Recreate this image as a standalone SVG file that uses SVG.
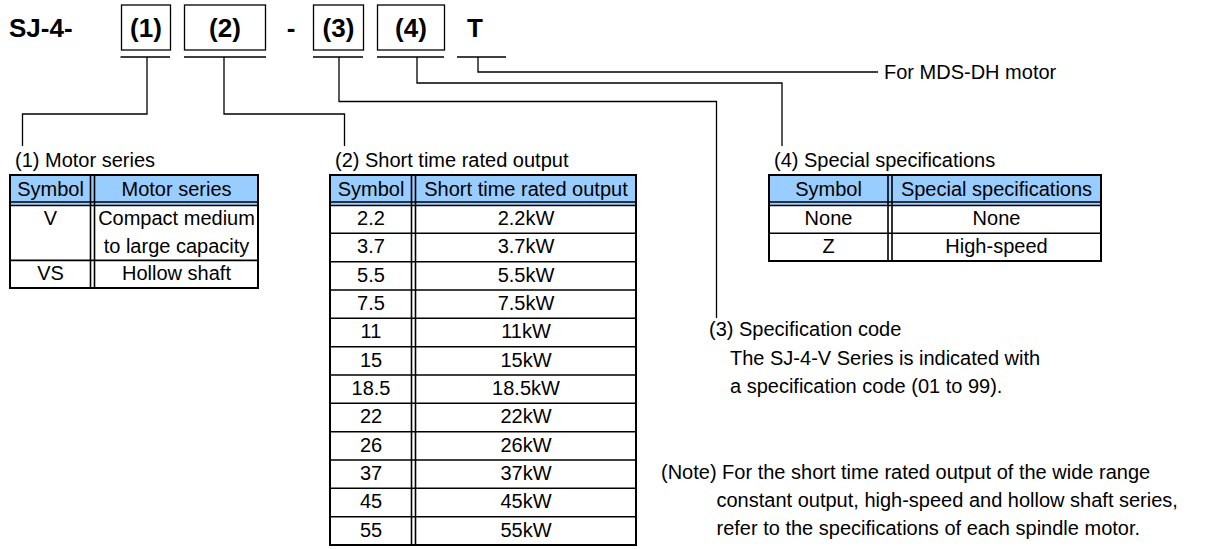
<svg xmlns="http://www.w3.org/2000/svg" width="1216" height="549" viewBox="0 0 1216 549">
<style>
text{font-family:"Liberation Sans",Arial,sans-serif;fill:#000}
.t{font-size:20px}
.c{text-anchor:middle}
.b{font-weight:bold;font-size:26px}
.box{fill:none;stroke:#000;stroke-width:1.3}
.ln{fill:none;stroke:#000;stroke-width:1.3}
.hd{fill:#99CCFF}
.tb{fill:none;stroke:#000;stroke-width:2}
.tl{stroke:#000;stroke-width:1.6}
</style>
<rect width="1216" height="549" fill="#fff"/>

<g id="title">
<text class="b" x="9" y="37">SJ-4-</text>
<text class="b c" x="291" y="37">-</text>
</g>
<g id="code1"><rect class="box" x="121.5" y="5" width="49" height="45"/><text class="b c" x="146" y="37">(1)</text></g>
<g id="code2"><rect class="box" x="184.5" y="5" width="81" height="45"/><text class="b c" x="225" y="37">(2)</text></g>
<g id="code3"><rect class="box" x="313.5" y="5" width="50" height="45"/><text class="b c" x="338.5" y="37">(3)</text></g>
<g id="code4"><rect class="box" x="377.5" y="5" width="67" height="45"/><text class="b c" x="411" y="37">(4)</text></g>
<g id="codeT"><text class="b c" x="475" y="37">T</text></g>

<g id="connectors">
<path class="ln" d="M120.5 57H170M184 57H266M313 57H363M377 57H444M457 57H506"/>
<path class="ln" d="M147 57V114H22.5V146"/>
<path class="ln" d="M224 57V114H344.5V146"/>
<path class="ln" d="M339 57V101.5H716.5V318"/>
<path class="ln" d="M417 57V83H782V146"/>
<path class="ln" d="M478 57V72H878"/>
</g>

<g id="label-T"><text class="t" x="884" y="79">For MDS-DH motor</text></g>

<g id="table1">
<text class="t" x="15" y="167">(1) Motor series</text>
<rect class="hd" x="10" y="175" width="248" height="30"/>
<rect class="tb" x="10" y="175" width="248" height="113"/>
<path class="tl" d="M10 202H258M10 205.5H258M90.5 175V288M94.5 175V288M10 260.4H258"/>
<text class="t c" x="50.5" y="196">Symbol</text>
<text class="t c" x="176.5" y="196">Motor series</text>
<text class="t c" x="50.5" y="225">V</text>
<text class="t c" x="176.5" y="225">Compact medium</text>
<text class="t c" x="176.5" y="252.7">to large capacity</text>
<text class="t c" x="50.5" y="280.4">VS</text>
<text class="t c" x="176.5" y="280.4">Hollow shaft</text>
</g>

<g id="table2">
<text class="t" x="335" y="167">(2) Short time rated output</text>
<rect class="hd" x="330" y="175" width="306" height="30"/>
<rect class="tb" x="330" y="175" width="306" height="370"/>
<path class="tl" d="M330 202H636M330 205.5H636M411.5 175V545M415.5 175V545M330 233.3H636M330 261.7H636M330 290H636M330 318.3H636M330 346.7H636M330 375H636M330 403.3H636M330 431.7H636M330 460H636M330 488.3H636M330 516.7H636"/>
<text class="t c" x="371" y="196">Symbol</text>
<text class="t c" x="526" y="196">Short time rated output</text>
<text class="t c" x="371" y="225">2.2</text><text class="t c" x="526" y="225">2.2kW</text>
<text class="t c" x="371" y="253.3">3.7</text><text class="t c" x="526" y="253.3">3.7kW</text>
<text class="t c" x="371" y="281.7">5.5</text><text class="t c" x="526" y="281.7">5.5kW</text>
<text class="t c" x="371" y="310">7.5</text><text class="t c" x="526" y="310">7.5kW</text>
<text class="t c" x="371" y="338.3">11</text><text class="t c" x="526" y="338.3">11kW</text>
<text class="t c" x="371" y="366.7">15</text><text class="t c" x="526" y="366.7">15kW</text>
<text class="t c" x="371" y="395">18.5</text><text class="t c" x="526" y="395">18.5kW</text>
<text class="t c" x="371" y="423.3">22</text><text class="t c" x="526" y="423.3">22kW</text>
<text class="t c" x="371" y="451.7">26</text><text class="t c" x="526" y="451.7">26kW</text>
<text class="t c" x="371" y="480">37</text><text class="t c" x="526" y="480">37kW</text>
<text class="t c" x="371" y="508.3">45</text><text class="t c" x="526" y="508.3">45kW</text>
<text class="t c" x="371" y="536.7">55</text><text class="t c" x="526" y="536.7">55kW</text>
</g>

<g id="table4">
<text class="t" x="774" y="167">(4) Special specifications</text>
<rect class="hd" x="769" y="175" width="332" height="30"/>
<rect class="tb" x="769" y="175" width="332" height="86"/>
<path class="tl" d="M769 202H1101M769 205.5H1101M888 175V261M892 175V261M769 233.3H1101"/>
<text class="t c" x="828.5" y="196">Symbol</text>
<text class="t c" x="996.5" y="196">Special specifications</text>
<text class="t c" x="828.5" y="225">None</text>
<text class="t c" x="996.5" y="225">None</text>
<text class="t c" x="828.5" y="253.3">Z</text>
<text class="t c" x="996.5" y="253.3">High-speed</text>
</g>

<g id="spec-code">
<text class="t" x="709" y="336">(3) Specification code</text>
<text class="t" x="730" y="364.5">The SJ-4-V Series is indicated with</text>
<text class="t" x="730" y="393">a specification code (01 to 99).</text>
</g>

<g id="note">
<text class="t" x="661" y="479">(Note) For the short time rated output of the wide range</text>
<text class="t" x="716.5" y="507">constant output, high-speed and hollow shaft series,</text>
<text class="t" x="716.5" y="535">refer to the specifications of each spindle motor.</text>
</g>
</svg>
